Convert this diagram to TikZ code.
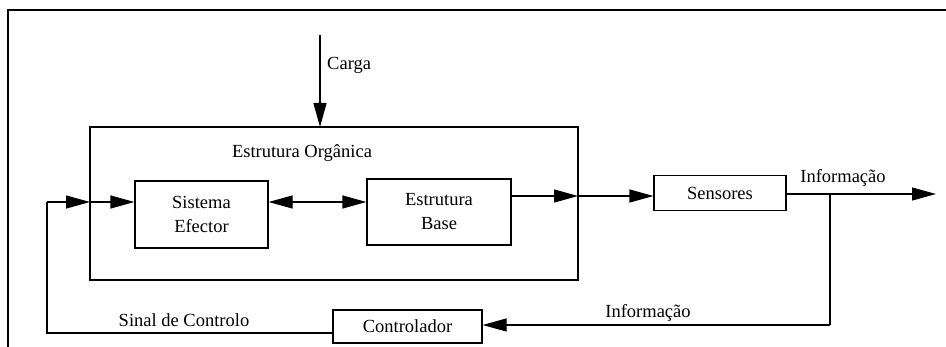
\documentclass[tikz,border=0pt]{standalone}
\usepackage{fontspec}
\newfontfamily\tfont{Liberation Serif}
\usetikzlibrary{arrows.meta}
\begin{document}
\begin{tikzpicture}[x=1pt,y=-1pt,
  box/.style={draw,line width=1.2pt,rectangle,inner sep=0pt,align=center,font=\tfont\fontsize{18.5}{24}\selectfont},
  lbl/.style={inner sep=0pt,font=\tfont\fontsize{18.5}{22}\selectfont},
  conn/.style={line width=1.2pt},
  arr/.style={conn,-{Triangle[length=24pt,width=13pt]}},
  darr/.style={conn,{Triangle[length=24pt,width=13pt]}-{Triangle[length=24pt,width=13pt]}}]
\useasboundingbox (0,0) rectangle (946,347);
% outer frame
\draw[line width=1.4pt] (8,347) -- (8,10) -- (946,10);
% boxes
\node[box,minimum width=488pt,minimum height=153pt] (org) at (334,203.5) {};
\node[lbl] (orgl) at (302,153) {Estrutura Orgânica};
\node[box,minimum width=133pt,minimum height=67pt] (se) at (201.5,214.5) {Sistema\\Efector};
\node[box,minimum width=144pt,minimum height=66pt] (eb) at (439,212) {Estrutura\\Base};
\node[box,minimum width=132pt,minimum height=35pt] (sens) at (720,193) {Sensores};
\node[box,minimum width=149pt,minimum height=33pt] (ctrl) at (407.5,326.5) {Controlador};
% coordinates
\coordinate (ctop) at (320,35);
\coordinate (cbot) at (320,127);
\coordinate (out) at (936,194);
\coordinate (br) at (830,194);
\coordinate (brd) at (830,325);
\coordinate (fbb) at (47,333);
\coordinate (fbt) at (47,202);
\coordinate (fbm) at (90,202);
\coordinate (ebo) at (511,196);
\coordinate (orgr) at (578,196);
% labels
\node[lbl,anchor=west] (carga) at (327,65) {Carga};
\node[lbl] (info1) at (843,178) {Informação};
\node[lbl] (info2) at (648,313) {Informação};
\node[lbl] (sinal) at (184,320) {Sinal de Controlo};
% connectors
\draw[arr] (ctop) -- (cbot);
\draw[darr] (se.east |- fbt) -- (eb.west |- fbt);
\draw[arr] (ebo) -- (orgr);
\draw[arr] (orgr) -- (sens.west |- orgr);
\draw[arr] (sens.east |- out) -- (out);
\draw[conn] (br) -- (brd);
\draw[arr] (brd) -- (ctrl.east |- brd);
\draw[conn] (ctrl.west |- fbb) -- (fbb) -- (fbt);
\draw[arr] (fbt) -- (fbm);
\draw[arr] (fbm) -- (se.west |- fbm);
\end{tikzpicture}
\end{document}
